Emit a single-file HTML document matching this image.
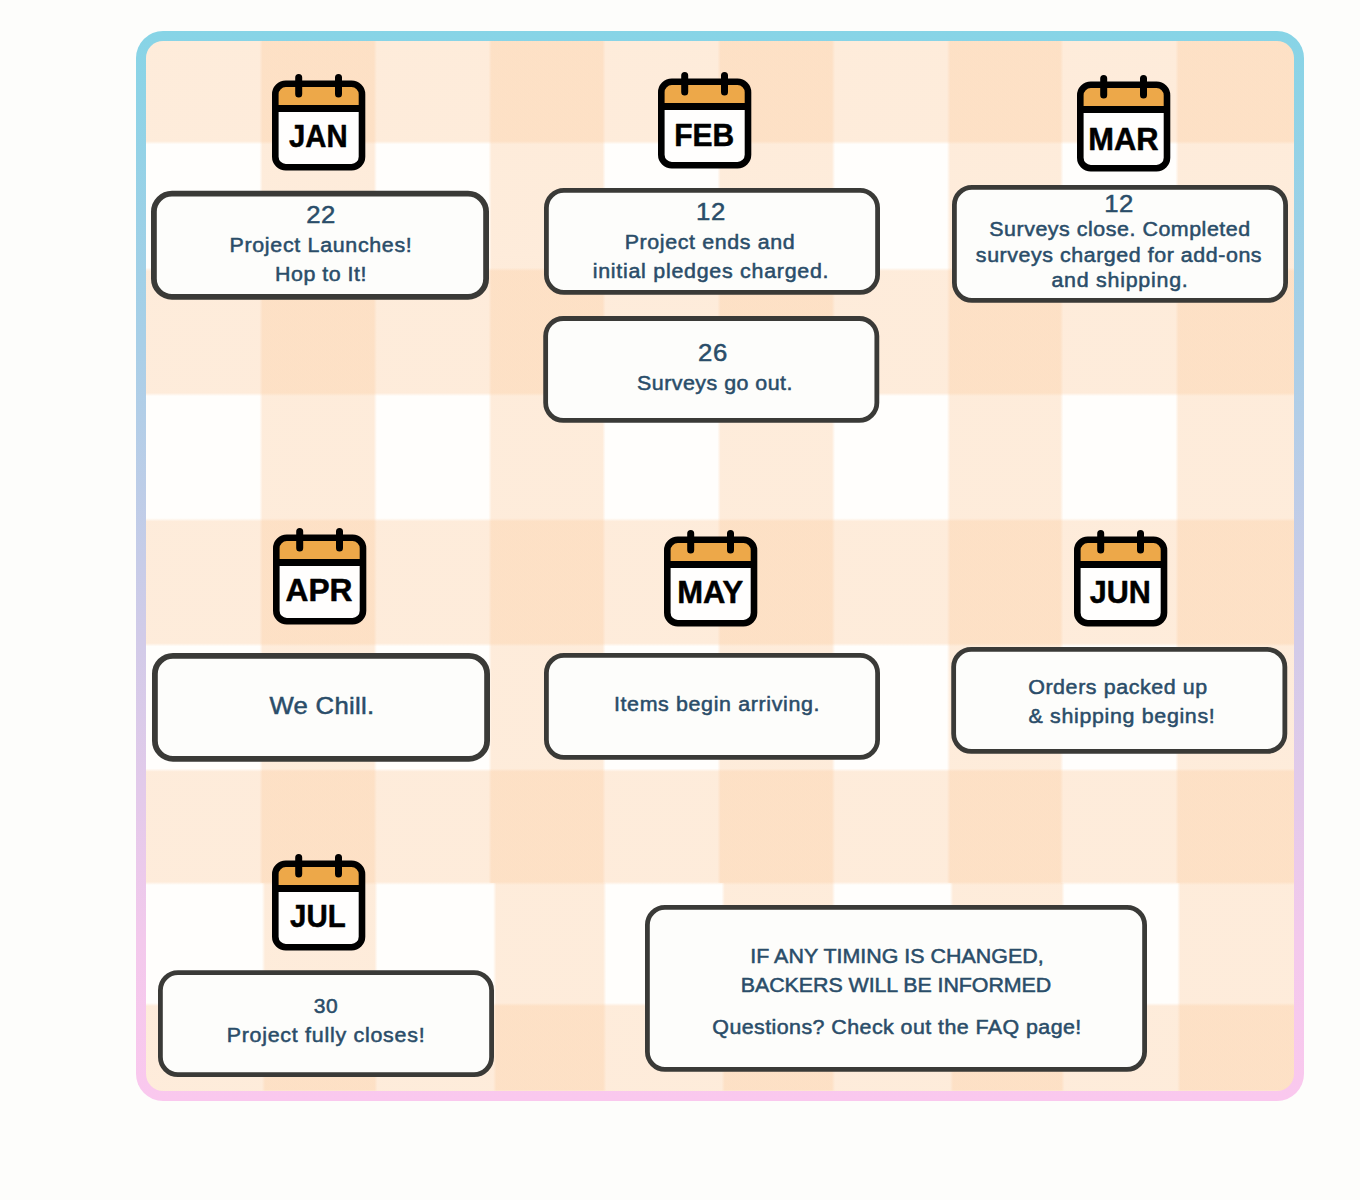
<!DOCTYPE html>
<html lang="en"><head><meta charset="utf-8">
<title>Project Timeline</title>
<style>
html,body{margin:0;padding:0;}
body{width:1360px;height:1200px;position:relative;overflow:hidden;background:#fdfdfb;font-family:"Liberation Sans",Arial,Helvetica,sans-serif;color:#2a4d69;}
.frame{position:absolute;left:136px;top:31px;width:1168px;height:1070px;border-radius:27px;background:linear-gradient(180deg,#87d4e6 0%,#a8cfe7 29%,#d2cbe8 57%,#f3c9ec 85%,#fac8ee 100%);}
.gingham{position:absolute;left:10px;top:10px;width:1148px;height:1050px;border-radius:17px;background-color:#fffefc;background-image:linear-gradient(180deg,rgba(252,206,164,0.38) 0px,rgba(252,206,164,0.38) 100.1px,transparent 103.3px,transparent 226.8px,rgba(252,206,164,0.38) 230px,rgba(252,206,164,0.38) 351.9px,transparent 355.1px,transparent 477.2px,rgba(252,206,164,0.38) 480.4px,rgba(252,206,164,0.38) 602.2px,transparent 605.4px,transparent 727.5px,rgba(252,206,164,0.38) 730.7px,rgba(252,206,164,0.38) 840.8px,transparent 844px,transparent 961.9px,rgba(252,206,164,0.38) 965.1px,rgba(252,206,164,0.38) 1050px),linear-gradient(90deg,transparent 0px,transparent 113.4px,rgba(252,206,164,0.38) 116.6px,rgba(252,206,164,0.38) 227.7px,transparent 230.9px,transparent 342.4px,rgba(252,206,164,0.38) 345.6px,rgba(252,206,164,0.38) 456.4px,transparent 459.6px,transparent 571.4px,rgba(252,206,164,0.38) 574.6px,rgba(252,206,164,0.38) 685.9px,transparent 689.1px,transparent 800.9px,rgba(252,206,164,0.38) 804.1px,rgba(252,206,164,0.38) 914.2px,transparent 917.4px,transparent 1029.4px,rgba(252,206,164,0.38) 1032.6px,rgba(252,206,164,0.38) 1148px),linear-gradient(90deg,transparent 0px,transparent 115.9px,rgba(252,206,164,0.38) 119.1px,rgba(252,206,164,0.38) 228.4px,transparent 231.6px,transparent 347.1px,rgba(252,206,164,0.38) 350.3px,rgba(252,206,164,0.38) 457.1px,transparent 460.3px,transparent 575.6px,rgba(252,206,164,0.38) 578.8px,rgba(252,206,164,0.38) 685.9px,transparent 689.1px,transparent 803.9px,rgba(252,206,164,0.38) 807.1px,rgba(252,206,164,0.38) 915.4px,transparent 918.6px,transparent 1031.2px,rgba(252,206,164,0.38) 1034.4px,rgba(252,206,164,0.38) 1148px);background-size:100% 100%,100% 842.4px,100% 207.6px;background-position:0 0,0 0,0 842.4px;background-repeat:no-repeat;}
.card{position:absolute;overflow:visible;}
.t{position:absolute;margin:0;white-space:nowrap;text-align:center;width:600px;margin-left:-300px;-webkit-text-stroke:0.5px currentColor;transform:scaleX(1.07);transform-origin:50% 50%;}
.ico{position:absolute;width:94px;height:97px;overflow:visible;}
.ico text{font-family:"Liberation Sans",Arial,Helvetica,sans-serif;font-weight:700;font-size:32px;fill:#000;stroke:#000;stroke-width:0.5px;stroke-linejoin:round;}
</style></head><body>
<div class="frame"><div class="gingham"></div></div>
<main class="timeline">
<section class="month" id="month-jan">
<svg class="ico" style="left:272px;top:73.5px" viewBox="0 0 94 97" role="img" aria-label="JAN calendar"><rect x="3.3" y="9.8" width="86.7" height="83.4" rx="10.5" fill="#fffefd"/><path d="M6 32V19.5a7 7 0 0 1 7-7h67.3a7 7 0 0 1 7 7V32z" fill="#eda849"/><rect x="3.3" y="31" width="86.7" height="7" fill="#000"/><rect x="3.3" y="9.8" width="86.7" height="83.4" rx="10.5" fill="none" stroke="#000" stroke-width="6.6"/><path d="M26.7 3.5v16.5M66.5 3.5v16.5" stroke="#000" stroke-width="7" stroke-linecap="round" fill="none"/><text x="46.24" y="72.67" text-anchor="middle" textLength="58.6" lengthAdjust="spacingAndGlyphs">JAN</text></svg>
<div class="event" id="card-jan">
<svg class="card" style="left:150px;top:189px;width:340px;height:112px" viewBox="0 0 340 112" aria-hidden="true"><rect x="3.9" y="4.65" width="332.2" height="103.2" rx="18.1" fill="#fdfdfb" stroke="#3a3a37" stroke-width="5.8"/></svg>
<p class="t day" style="left:320.98px;top:197.68px;font-size:24px;line-height:34px;letter-spacing:0.47px">22</p>
<p class="t" style="left:320.72px;top:231.07px;font-size:20px;line-height:28px;letter-spacing:0.64px">Project Launches!</p>
<p class="t" style="left:321px;top:259.77px;font-size:20px;line-height:28px;letter-spacing:0.47px">Hop to It!</p>
</div>
</section>
<section class="month" id="month-feb">
<svg class="ico" style="left:658px;top:72px" viewBox="0 0 94 97" role="img" aria-label="FEB calendar"><rect x="3.3" y="9.8" width="86.7" height="83.4" rx="10.5" fill="#fffefd"/><path d="M6 32V19.5a7 7 0 0 1 7-7h67.3a7 7 0 0 1 7 7V32z" fill="#eda849"/><rect x="3.3" y="31" width="86.7" height="7" fill="#000"/><rect x="3.3" y="9.8" width="86.7" height="83.4" rx="10.5" fill="none" stroke="#000" stroke-width="6.6"/><path d="M26.7 3.5v16.5M66.5 3.5v16.5" stroke="#000" stroke-width="7" stroke-linecap="round" fill="none"/><text x="46.25" y="73.5" text-anchor="middle" textLength="60" lengthAdjust="spacingAndGlyphs">FEB</text></svg>
<div class="event" id="card-feb1">
<svg class="card" style="left:543px;top:187px;width:338px;height:109px" viewBox="0 0 338 109" aria-hidden="true"><rect x="3.4" y="3.4" width="331.2" height="101.95" rx="17.6" fill="#fdfdfb" stroke="#3a3a37" stroke-width="4.8"/></svg>
<p class="t day" style="left:711.25px;top:194.68px;font-size:24px;line-height:34px;letter-spacing:0.75px">12</p>
<p class="t" style="left:710.09px;top:228.07px;font-size:20px;line-height:28px;letter-spacing:0.59px">Project ends and</p>
<p class="t" style="left:711.05px;top:256.87px;font-size:20px;line-height:28px;letter-spacing:0.69px">initial pledges charged.</p>
</div>
<div class="event" id="card-feb2">
<svg class="card" style="left:542px;top:315px;width:339px;height:109px" viewBox="0 0 339 109" aria-hidden="true"><rect x="3.65" y="3.5" width="331.2" height="101.95" rx="17.6" fill="#fdfdfb" stroke="#3a3a37" stroke-width="4.8"/></svg>
<p class="t day" style="left:713.17px;top:335.98px;font-size:24px;line-height:34px;letter-spacing:0.7px">26</p>
<p class="t" style="left:714.51px;top:368.77px;font-size:20px;line-height:28px;letter-spacing:0.45px">Surveys go out.</p>
</div>
</section>
<section class="month" id="month-mar">
<svg class="ico" style="left:1077px;top:75px" viewBox="0 0 94 97" role="img" aria-label="MAR calendar"><rect x="3.3" y="9.8" width="86.7" height="83.4" rx="10.5" fill="#fffefd"/><path d="M6 32V19.5a7 7 0 0 1 7-7h67.3a7 7 0 0 1 7 7V32z" fill="#eda849"/><rect x="3.3" y="31" width="86.7" height="7" fill="#000"/><rect x="3.3" y="9.8" width="86.7" height="83.4" rx="10.5" fill="none" stroke="#000" stroke-width="6.6"/><path d="M26.7 3.5v16.5M66.5 3.5v16.5" stroke="#000" stroke-width="7" stroke-linecap="round" fill="none"/><text x="46.37" y="74.5" text-anchor="middle" textLength="70.25" lengthAdjust="spacingAndGlyphs">MAR</text></svg>
<div class="event" id="card-mar">
<svg class="card" style="left:951px;top:184px;width:338px;height:120px" viewBox="0 0 338 120" aria-hidden="true"><rect x="3.4" y="3.4" width="331.2" height="112.95" rx="17.6" fill="#fdfdfb" stroke="#3a3a37" stroke-width="4.8"/></svg>
<p class="t day" style="left:1118.77px;top:186.78px;font-size:24px;line-height:34px;letter-spacing:0.33px">12</p>
<p class="t" style="left:1120.23px;top:215.27px;font-size:20px;line-height:28px;letter-spacing:0.5px">Surveys close. Completed</p>
<p class="t" style="left:1119.04px;top:240.97px;font-size:20px;line-height:28px;letter-spacing:0.52px">surveys charged for add-ons</p>
<p class="t" style="left:1119.63px;top:266.17px;font-size:20px;line-height:28px;letter-spacing:0.7px">and shipping.</p>
</div>
</section>
<section class="month" id="month-apr">
<svg class="ico" style="left:273px;top:527.5px" viewBox="0 0 94 97" role="img" aria-label="APR calendar"><rect x="3.3" y="9.8" width="86.7" height="83.4" rx="10.5" fill="#fffefd"/><path d="M6 32V19.5a7 7 0 0 1 7-7h67.3a7 7 0 0 1 7 7V32z" fill="#eda849"/><rect x="3.3" y="31" width="86.7" height="7" fill="#000"/><rect x="3.3" y="9.8" width="86.7" height="83.4" rx="10.5" fill="none" stroke="#000" stroke-width="6.6"/><path d="M26.7 3.5v16.5M66.5 3.5v16.5" stroke="#000" stroke-width="7" stroke-linecap="round" fill="none"/><text x="46" y="72.5" text-anchor="middle" textLength="67" lengthAdjust="spacingAndGlyphs">APR</text></svg>
<div class="event" id="card-apr">
<svg class="card" style="left:151px;top:651px;width:340px;height:112px" viewBox="0 0 340 112" aria-hidden="true"><rect x="3.9" y="4.8" width="332.2" height="103.05" rx="18.1" fill="#fdfdfb" stroke="#3a3a37" stroke-width="5.8"/></svg>
<p class="t" style="left:322.39px;top:688.68px;font-size:24px;line-height:34px;letter-spacing:0.29px">We Chill.</p>
</div>
</section>
<section class="month" id="month-may">
<svg class="ico" style="left:664px;top:529.5px" viewBox="0 0 94 97" role="img" aria-label="MAY calendar"><rect x="3.3" y="9.8" width="86.7" height="83.4" rx="10.5" fill="#fffefd"/><path d="M6 32V19.5a7 7 0 0 1 7-7h67.3a7 7 0 0 1 7 7V32z" fill="#eda849"/><rect x="3.3" y="31" width="86.7" height="7" fill="#000"/><rect x="3.3" y="9.8" width="86.7" height="83.4" rx="10.5" fill="none" stroke="#000" stroke-width="6.6"/><path d="M26.7 3.5v16.5M66.5 3.5v16.5" stroke="#000" stroke-width="7" stroke-linecap="round" fill="none"/><text x="46.25" y="72.9" text-anchor="middle" textLength="66" lengthAdjust="spacingAndGlyphs">MAY</text></svg>
<div class="event" id="card-may">
<svg class="card" style="left:543px;top:652px;width:338px;height:109px" viewBox="0 0 338 109" aria-hidden="true"><rect x="3.4" y="3.4" width="331.2" height="101.95" rx="17.6" fill="#fdfdfb" stroke="#3a3a37" stroke-width="4.8"/></svg>
<p class="t" style="left:716.6px;top:690.47px;font-size:20px;line-height:28px;letter-spacing:0.6px">Items begin arriving.</p>
</div>
</section>
<section class="month" id="month-jun">
<svg class="ico" style="left:1074px;top:529.5px" viewBox="0 0 94 97" role="img" aria-label="JUN calendar"><rect x="3.3" y="9.8" width="86.7" height="83.4" rx="10.5" fill="#fffefd"/><path d="M6 32V19.5a7 7 0 0 1 7-7h67.3a7 7 0 0 1 7 7V32z" fill="#eda849"/><rect x="3.3" y="31" width="86.7" height="7" fill="#000"/><rect x="3.3" y="9.8" width="86.7" height="83.4" rx="10.5" fill="none" stroke="#000" stroke-width="6.6"/><path d="M26.7 3.5v16.5M66.5 3.5v16.5" stroke="#000" stroke-width="7" stroke-linecap="round" fill="none"/><text x="46.25" y="73.27" text-anchor="middle" textLength="61" lengthAdjust="spacingAndGlyphs">JUN</text></svg>
<div class="event" id="card-jun">
<svg class="card" style="left:950px;top:646px;width:339px;height:109px" viewBox="0 0 339 109" aria-hidden="true"><rect x="3.65" y="3.4" width="331.2" height="101.95" rx="17.6" fill="#fdfdfb" stroke="#3a3a37" stroke-width="4.8"/></svg>
<p class="t" style="left:1117.94px;top:672.57px;font-size:20px;line-height:28px;letter-spacing:0.56px">Orders packed up</p>
<p class="t" style="left:1122.19px;top:701.97px;font-size:20px;line-height:28px;letter-spacing:0.62px">&amp; shipping begins!</p>
</div>
</section>
<section class="month" id="month-jul">
<svg class="ico" style="left:272px;top:853.5px" viewBox="0 0 94 97" role="img" aria-label="JUL calendar"><rect x="3.3" y="9.8" width="86.7" height="83.4" rx="10.5" fill="#fffefd"/><path d="M6 32V19.5a7 7 0 0 1 7-7h67.3a7 7 0 0 1 7 7V32z" fill="#eda849"/><rect x="3.3" y="31" width="86.7" height="7" fill="#000"/><rect x="3.3" y="9.8" width="86.7" height="83.4" rx="10.5" fill="none" stroke="#000" stroke-width="6.6"/><path d="M26.7 3.5v16.5M66.5 3.5v16.5" stroke="#000" stroke-width="7" stroke-linecap="round" fill="none"/><text x="45.87" y="73.27" text-anchor="middle" textLength="55.6" lengthAdjust="spacingAndGlyphs">JUL</text></svg>
<div class="event" id="card-jul">
<svg class="card" style="left:157px;top:969px;width:338px;height:109px" viewBox="0 0 338 109" aria-hidden="true"><rect x="3.4" y="3.65" width="331.2" height="101.95" rx="17.6" fill="#fdfdfb" stroke="#3a3a37" stroke-width="4.8"/></svg>
<p class="t day" style="left:325.95px;top:990.72px;font-size:21px;line-height:29px;letter-spacing:0.5px;transform:scaleX(1.0)">30</p>
<p class="t" style="left:326.32px;top:1020.87px;font-size:20px;line-height:28px;letter-spacing:0.69px">Project fully closes!</p>
</div>
</section>
<aside class="notice">
<div class="event" id="card-note">
<svg class="card" style="left:644px;top:904px;width:504px;height:169px" viewBox="0 0 504 169" aria-hidden="true"><rect x="3.4" y="3.4" width="497.2" height="161.95" rx="17.6" fill="#fdfdfb" stroke="#3a3a37" stroke-width="4.8"/></svg>
<p class="t" style="left:896.91px;top:941.77px;font-size:20px;line-height:28px;letter-spacing:0.02px">IF ANY TIMING IS CHANGED,</p>
<p class="t" style="left:895.64px;top:971.07px;font-size:20px;line-height:28px;letter-spacing:-0.06px">BACKERS WILL BE INFORMED</p>
<p class="t" style="left:897.17px;top:1012.57px;font-size:20px;line-height:28px;letter-spacing:0.41px">Questions? Check out the FAQ page!</p>
</div>
</aside>
</main>
</body></html>
